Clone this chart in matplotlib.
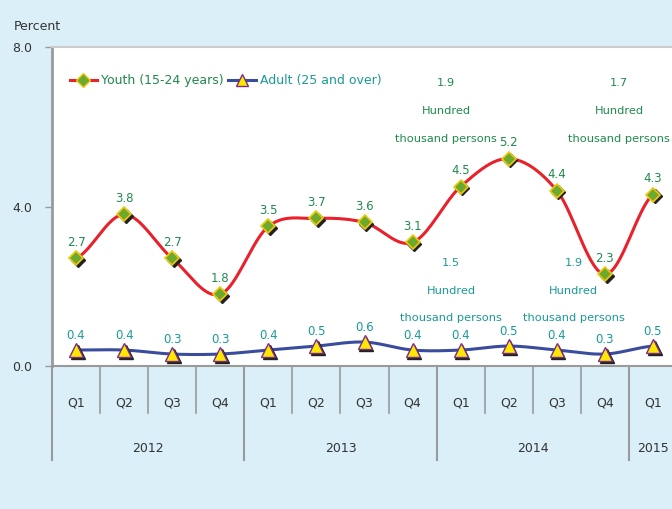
import numpy as np
import matplotlib
matplotlib.use("Agg")
import matplotlib.pyplot as plt
from matplotlib import transforms

# Data
quarters = ["Q1", "Q2", "Q3", "Q4", "Q1", "Q2", "Q3", "Q4", "Q1", "Q2", "Q3", "Q4", "Q1"]
years = ["2012", "2013", "2014", "2015"]
year_sizes = [4, 4, 4, 1]
youth = [2.7, 3.8, 2.7, 1.8, 3.5, 3.7, 3.6, 3.1, 4.5, 5.2, 4.4, 2.3, 4.3]
adult = [0.4, 0.4, 0.3, 0.3, 0.4, 0.5, 0.6, 0.4, 0.4, 0.5, 0.4, 0.3, 0.5]

# Persons notes: (value, category position)
notes_upper = [("1.9", 7.7), ("1.7", 11.3)]
notes_lower = [("1.5", 7.8), ("1.9", 10.35)]

BG = "#DAEFF8"
GREEN_TXT = "#1F8A4C"
TEAL_TXT = "#1A9A96"
GRAY = "#9A9A9A"
plt.rcParams["font.family"] = "DejaVu Sans"


def smooth(y, n=20):
    # Catmull-Rom curve through the points, for the rounded look of the line
    y = np.asarray(y, float)
    p = np.concatenate([[y[0]], y, [y[-1]]])
    xs, ys = [], []
    for i in range(len(y) - 1):
        t = np.linspace(0, 1, n, endpoint=False)
        p0, p1, p2, p3 = p[i], p[i + 1], p[i + 2], p[i + 3]
        v = 0.5 * ((2 * p1) + (-p0 + p2) * t + (2 * p0 - 5 * p1 + 4 * p2 - p3) * t ** 2
                   + (-p0 + 3 * p1 - 3 * p2 + p3) * t ** 3)
        xs.append(i + t)
        ys.append(v)
    xs.append([len(y) - 1])
    ys.append([y[-1]])
    return np.concatenate(xs), np.concatenate(ys)


fig = plt.figure(figsize=(6.72, 5.09), dpi=100, facecolor=BG)
W, H = 672, 509
ax = fig.add_axes([52 / W, 143 / H, 625 / W, 319 / H])
ax.set_facecolor("white")

x = np.arange(len(quarters))

# lines
sx, sy = smooth(youth)
ax.plot(sx, sy, color="#E8212B", lw=2.2, zorder=3)
sx, sy = smooth(adult)
ax.plot(sx, sy, color="#3A4C9E", lw=2.2, zorder=3)

# marker shadows
shadow = transforms.offset_copy(ax.transData, fig=fig, x=1.2, y=-1.2, units="points")
ax.plot(x, youth, ls="none", marker="D", ms=7, color="#222222", transform=shadow, zorder=4)
ax.plot(x, adult, ls="none", marker="^", ms=10, color="#222222", transform=shadow, zorder=4)

ax.plot(x, youth, ls="none", marker="D", ms=7, mfc="#6BAA2C", mec="#F2C80F", mew=1.2, zorder=5)
ax.plot(x, adult, ls="none", marker="^", ms=10, mfc="#FFE800", mec="#7A2E86", mew=1.0, zorder=5)

# legend proxies
ly, = ax.plot([], [], color="#E8212B", lw=2.2, marker="D", ms=7, mfc="#6BAA2C", mec="#F2C80F")
la, = ax.plot([], [], color="#3A4C9E", lw=2.2, marker="^", ms=9, mfc="#FFE800", mec="#7A2E86")
leg = ax.legend([ly, la], ["Youth (15-24 years)", "Adult (25 and over)"], loc="upper left",
                bbox_to_anchor=(0.01, 0.95), ncol=2, frameon=False, fontsize=9,
                handlelength=2.2, handletextpad=0.3, columnspacing=0.4)
leg.get_texts()[0].set_color(GREEN_TXT)
leg.get_texts()[1].set_color(TEAL_TXT)

# value labels
for xi, v in zip(x, youth):
    ax.annotate(f"{v:.1f}", (xi, v), xytext=(0, 7), textcoords="offset points",
                ha="center", va="bottom", color=GREEN_TXT, fontsize=8.5)
for xi, v in zip(x, adult):
    ax.annotate(f"{v:.1f}", (xi, v), xytext=(0, 6), textcoords="offset points",
                ha="center", va="bottom", color=TEAL_TXT, fontsize=8.5)

# persons notes
for val, pos in notes_upper:
    for k, line in enumerate([val, "Hundred", "thousand persons"]):
        ax.text(pos, 7.1 - k * 0.7, line, ha="center", va="center", color=GREEN_TXT, fontsize=8.2)
for val, pos in notes_lower:
    for k, line in enumerate([val, "Hundred", "thousand persons"]):
        ax.text(pos, 2.58 - k * 0.69, line, ha="center", va="center", color=TEAL_TXT, fontsize=8.2)

ax.set_xlim(-0.5, 12.5)
ax.set_ylim(0, 8)
ax.set_yticks([0, 4, 8])
ax.set_yticklabels(["0.0", "4.0", "8.0"], fontsize=9, color="#333333")
ax.set_xticks([])
ax.tick_params(axis="y", length=5, width=1, color=GRAY, pad=9)
ax.spines["right"].set_visible(False)
ax.spines["left"].set_color(GRAY)
ax.spines["left"].set_linewidth(2)
ax.spines["bottom"].set_color(GRAY)
ax.spines["bottom"].set_linewidth(1.5)
ax.spines["top"].set_color("#CCCCCC")
ax.spines["top"].set_linewidth(1.5)

# category axis below the plot
blend = transforms.blended_transform_factory(ax.transData, fig.transFigure)
y_axis = 143 / H
for i, q in enumerate(quarters):
    fig.text(i, (509 - 403) / H, q, transform=blend, ha="center", va="center",
             fontsize=9, color="#333333")
for i in range(1, len(quarters)):
    ax.plot([i - 0.5, i - 0.5], [y_axis, (509 - 413) / H], transform=blend, color=GRAY,
            lw=1.2, clip_on=False)
start = -0.5
edges = [start]
for ys_, n in zip(years, year_sizes):
    mid = start + n / 2
    fig.text(mid, (509 - 448) / H, ys_, transform=blend, ha="center", va="center",
             fontsize=9, color="#333333")
    start += n
    edges.append(start)
for e in edges[:-1]:
    ax.plot([e, e], [y_axis, (509 - 460) / H], transform=blend, color=GRAY, lw=1.5,
            clip_on=False)

fig.text(14 / W, (509 - 27) / H, "Percent", ha="left", va="center", fontsize=9, color="#333333")

fig.savefig("out.png", dpi=100, facecolor=BG)
